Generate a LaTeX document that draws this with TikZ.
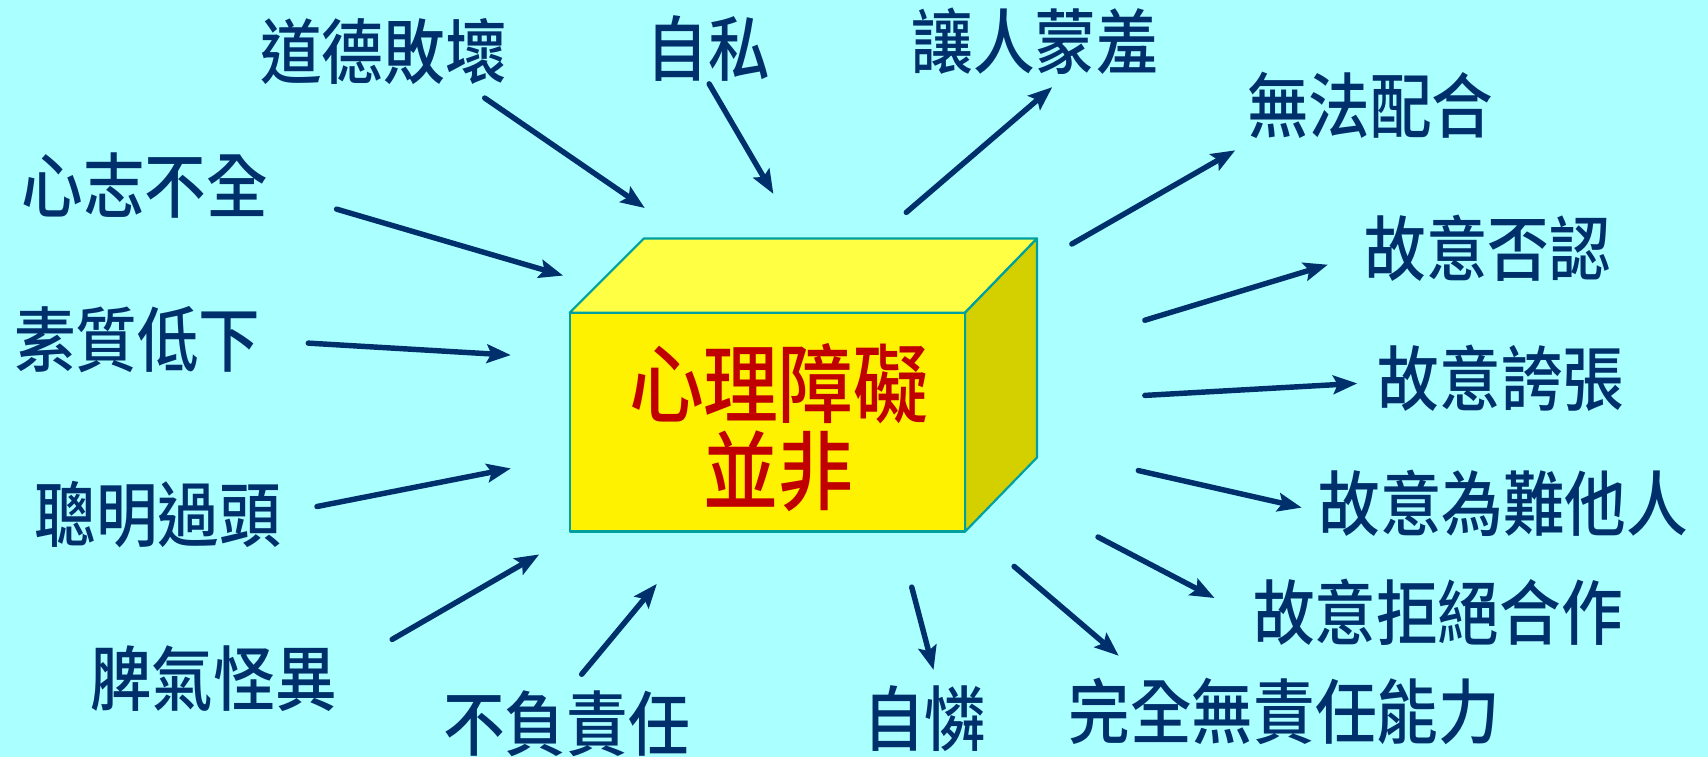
\documentclass[tikz,border=0pt]{standalone}
\usepackage{fontspec}
\newfontfamily\cjk[FakeStretch=0.87]{Noto Sans CJK TC Medium}
\usetikzlibrary{arrows.meta}
\definecolor{bg}{HTML}{AAFFFF}
\definecolor{navy}{HTML}{00306C}
\definecolor{titlered}{HTML}{C00000}
\definecolor{edge}{HTML}{00A0A0}
\definecolor{topface}{HTML}{FFFF44}
\definecolor{sideface}{HTML}{D4D000}
\tikzset{
  lbl/.style={text=navy, font=\cjk\fontsize{65}{70}\selectfont, inner sep=0pt},
  ttl/.style={text=titlered, font=\cjk\fontsize{79}{84}\selectfont, inner sep=0pt},
  arr/.style={draw=navy, line width=5pt, line cap=round, -{Stealth[length=22pt,width=17pt,inset=4pt]}},
  face/.style={draw=edge, line width=2pt, line join=round}
}
\begin{document}
\begin{tikzpicture}[x=1pt,y=-1pt]
\fill[bg] (0,0) rectangle (1568,695);
\useasboundingbox (0,0) rectangle (1568,695);
% box
\coordinate (fTL) at (523,287);
\coordinate (fTR) at (886,287);
\coordinate (fBR) at (886,488);
\coordinate (bTL) at (591,219);
\coordinate (bTR) at (952,219);
\coordinate (bBR) at (952,420);
\node[face, fill=yellow, minimum width=363pt, minimum height=201pt, inner sep=0pt] (front) at (704.5,387.5) {};
\filldraw[face, fill=topface] (fTL) -- (bTL) -- (bTR) -- (fTR) -- cycle;
\filldraw[face, fill=sideface] (fTR) -- (bTR) -- (bBR) -- (fBR) -- cycle;
\node[ttl] (t1) at (715,352) {心理障礙};
\node[ttl] (t2) at (715,433) {並非};
% labels
\node[lbl] (a1) at (352,47) {道德敗壞};
\node[lbl] (a2) at (650,45) {自私};
\node[lbl] (a3) at (133,170) {心志不全};
\node[lbl] (a4) at (126,312) {素質低下};
\node[lbl] (a5) at (145,472) {聰明過頭};
\node[lbl] (a6) at (196,623) {脾氣怪異};
\node[lbl] (a7) at (520,664) {不負責任};
\node[lbl] (b1) at (950,38) {讓人蒙羞};
\node[lbl] (b2) at (1258,97) {無法配合};
\node[lbl] (b3) at (1366,228) {故意否認};
\node[lbl] (b4) at (1378,347) {故意誇張};
\node[lbl] (b5) at (1380,462) {故意為難他人};
\node[lbl] (b6) at (1320,562) {故意拒絕合作};
\node[lbl] (b7) at (1179,653) {完全無責任能力};
\node[lbl] (b8) at (849,660) {自憐};
% arrow ends
\coordinate (a1s) at (445,90);   \coordinate (a1e) at (592,191);
\coordinate (a2s) at (651,77);   \coordinate (a2e) at (710,178);
\coordinate (a3s) at (309,192);  \coordinate (a3e) at (517,253);
\coordinate (a4s) at (283,315);  \coordinate (a4e) at (469,326);
\coordinate (a5s) at (291,465);  \coordinate (a5e) at (469,430);
\coordinate (a6s) at (360,587);  \coordinate (a6e) at (495,509);
\coordinate (a7s) at (534,619);  \coordinate (a7e) at (603,536);
\coordinate (b1s) at (832,195);  \coordinate (b1e) at (966,80);
\coordinate (b2s) at (984,224);  \coordinate (b2e) at (1134,138);
\coordinate (b3s) at (1051,294); \coordinate (b3e) at (1219,243);
\coordinate (b4s) at (1051,363); \coordinate (b4e) at (1246,352);
\coordinate (b5s) at (1045,432); \coordinate (b5e) at (1195,466);
\coordinate (b6s) at (1008,493); \coordinate (b6e) at (1115,549);
\coordinate (b7s) at (931,520);  \coordinate (b7e) at (1027,602);
\coordinate (b8s) at (837,539);  \coordinate (b8e) at (857,615);
\foreach \n in {a1,a2,a3,a4,a5,a6,a7,b1,b2,b3,b4,b5,b6,b7,b8}
  \draw[arr] (\n s) -- (\n e);
\end{tikzpicture}
\end{document}
